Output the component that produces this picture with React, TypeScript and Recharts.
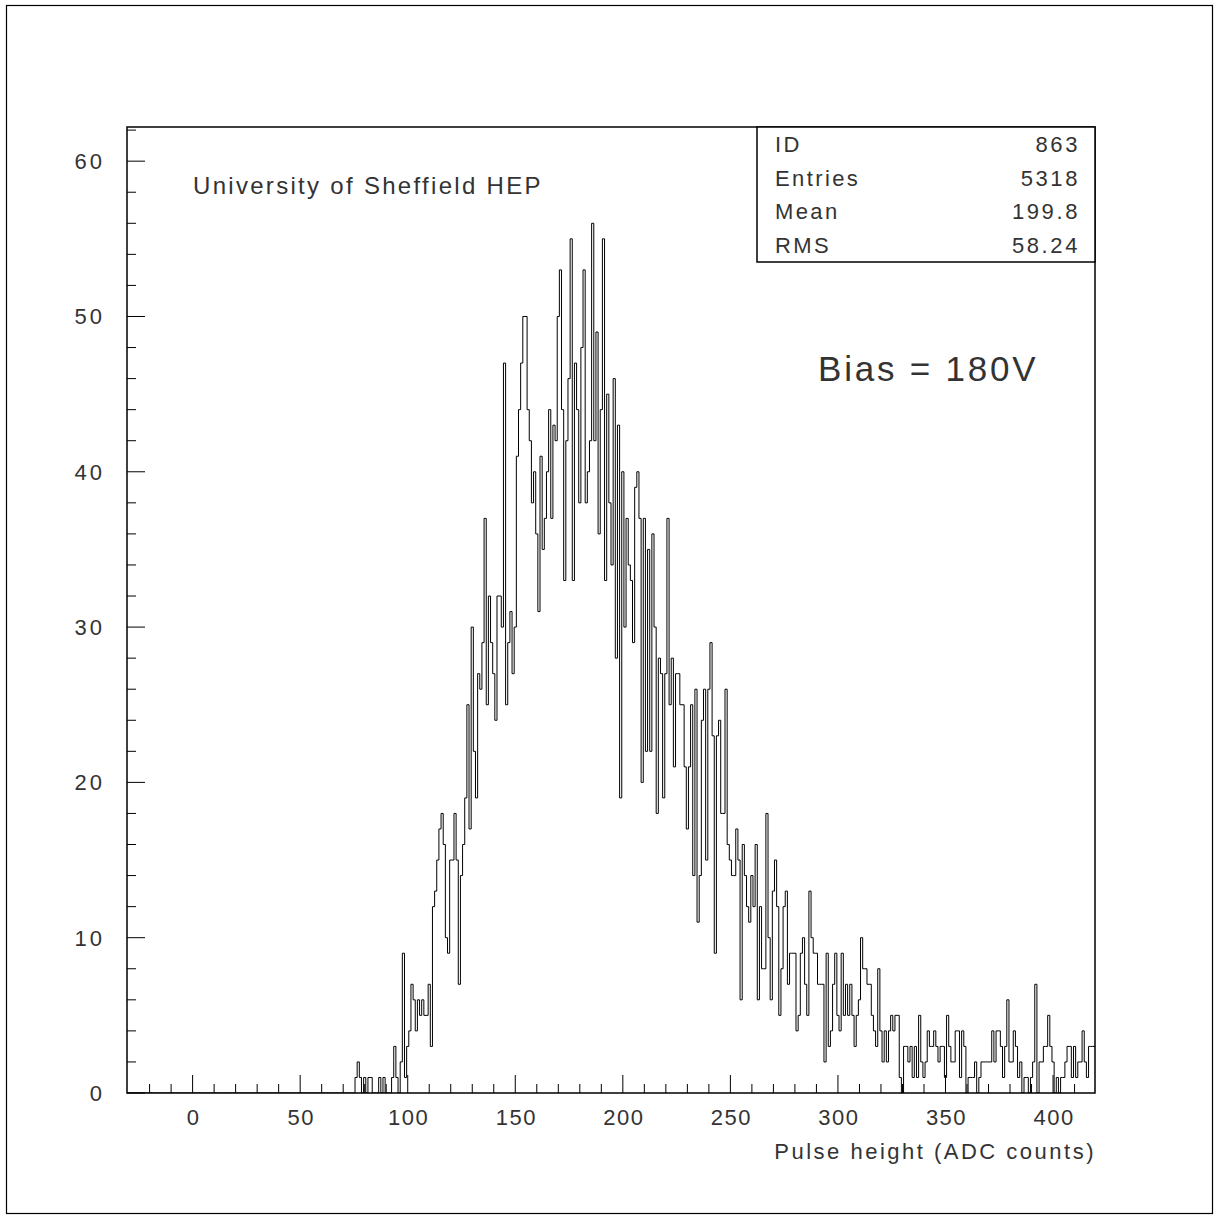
import React from 'react';
import { ComposedChart, Line, XAxis, YAxis, ReferenceArea } from 'recharts';

// Pulse-height spectrum, one ADC count per bin, bins centred on integer values.
// Everything below FIRST_BIN is empty.
const FIRST_BIN = 76;
const binCounts: number[] = [
  // 76 - 111
  1, 2, 1, 0, 1, 0, 1, 1, 0, 0, 0, 1, 0, 1, 0, 0, 0, 1, 3, 1, 0, 2, 9, 1, 3, 4, 7, 6, 4, 6, 5, 6, 5, 5, 7, 3,
  // 112 - 150
  12, 13, 15, 17, 18, 16, 10, 9, 15, 15, 18, 15, 7, 14, 16, 19, 25, 17, 30, 22, 19, 27, 26, 29, 37, 25, 32, 29,
  27, 24, 32, 32, 30, 47, 25, 29, 31, 27, 30,
  // 151 - 199
  41, 44, 47, 50, 50, 44, 42, 38, 40, 36, 31, 41, 35, 37, 40, 44, 37, 43, 42, 50, 53, 44, 33, 42, 46, 55, 33, 47,
  44, 38, 48, 53, 38, 40, 42, 56, 42, 49, 36, 44, 55, 33, 45, 38, 34, 46, 28, 43, 19,
  // 200 - 250
  40, 30, 37, 34, 33, 29, 39, 40, 37, 20, 37, 22, 35, 22, 36, 30, 18, 28, 27, 19, 27, 37, 25, 28, 21, 27, 27, 25,
  25, 21, 17, 21, 25, 14, 26, 11, 14, 24, 26, 15, 26, 29, 23, 9, 23, 24, 18, 18, 26, 16, 15,
  // 251 - 300
  14, 14, 17, 15, 6, 16, 14, 12, 11, 14, 12, 16, 6, 12, 8, 8, 18, 10, 6, 13, 15, 12, 5, 8, 12, 13, 7, 9, 9, 9, 4,
  5, 9, 10, 7, 5, 13, 10, 9, 9, 7, 7, 7, 2, 9, 3, 4, 7, 9, 5,
  // 301 - 350
  4, 9, 5, 7, 5, 7, 5, 3, 5, 6, 10, 8, 8, 7, 7, 5, 4, 3, 8, 4, 2, 4, 2, 4, 5, 4, 5, 5, 1, 0, 3, 3, 2, 3, 1, 3, 1,
  5, 2, 1, 2, 4, 3, 3, 4, 3, 2, 3, 3, 1,
  // 351 - 419
  5, 3, 2, 2, 4, 4, 1, 4, 3, 0, 1, 1, 1, 2, 0, 1, 2, 2, 2, 2, 2, 4, 2, 4, 4, 3, 1, 3, 6, 2, 2, 4, 3, 1, 2, 0, 1,
  1, 0, 1, 2, 7, 0, 2, 2, 3, 3, 5, 3, 2, 0, 1, 0, 1, 1, 2, 3, 3, 1, 3, 1, 2, 2, 4, 2, 1, 3, 3, 3,
];

const X_MIN = -30.5;
const X_MAX = 419.5;
const Y_MAX = 62.2;

const xMajorTicks = [0, 50, 100, 150, 200, 250, 300, 350, 400];
const yMajorTicks = [0, 10, 20, 30, 40, 50, 60];

const statsRows = [
  { label: 'ID', value: '863' },
  { label: 'Entries', value: '5318' },
  { label: 'Mean', value: '199.8' },
  { label: 'RMS', value: '58.24' },
];

// minor ticks every 10 counts on x, every 2 entries on y
const xTicks: number[] = [];
for (let t = -20; t <= 410; t += 10) xTicks.push(t);
const yTicks: number[] = [];
for (let t = 0; t <= 62; t += 2) yTicks.push(t);

// step outline: one point at the low edge of each bin, plus the closing edge
const histData: { x: number; count: number }[] = [];
for (let v = -30; v <= 419; v++) {
  const idx = v - FIRST_BIN;
  const count = idx >= 0 && idx < binCounts.length ? binCounts[idx] : 0;
  histData.push({ x: v - 0.5, count });
}
histData.push({ x: X_MAX, count: histData[histData.length - 1].count });

const W = 1215;
const H = 1215;
const PLOT_LEFT = 127;
const PLOT_TOP = 127;
const PLOT_RIGHT = 1095;
const PLOT_BOTTOM = 1093;
const STATS_LEFT = 757;
const STATS_BOTTOM = 262;

const FONT = '"Liberation Sans", Arial, sans-serif';
const INK = '#333';

const XTick = (props: any) => {
  const { x, payload } = props;
  const v = payload.value as number;
  const major = xMajorTicks.includes(v);
  return (
    <g>
      <line x1={x} x2={x} y1={PLOT_BOTTOM} y2={PLOT_BOTTOM - (major ? 18 : 9)} stroke="#000" strokeWidth={1} />
      {major && (
        <text x={x + 1} y={PLOT_BOTTOM + 32} textAnchor="middle" fontFamily={FONT} fontSize={22} fill={INK} letterSpacing={1.5}>
          {v}
        </text>
      )}
    </g>
  );
};

const YTick = (props: any) => {
  const { y, payload } = props;
  const v = payload.value as number;
  const major = yMajorTicks.includes(v);
  return (
    <g>
      <line x1={PLOT_LEFT} x2={PLOT_LEFT + (major ? 18 : 9)} y1={y} y2={y} stroke="#000" strokeWidth={1} />
      {major && (
        <text x={105} y={y + 8} textAnchor="end" fontFamily={FONT} fontSize={22} fill={INK} letterSpacing={3}>
          {v}
        </text>
      )}
    </g>
  );
};

export default function App() {
  const rowH = (STATS_BOTTOM - PLOT_TOP) / statsRows.length;
  return (
    <div style={{ position: 'absolute', left: 0, top: 0, width: W, height: H, background: '#fff' }}>
      <ComposedChart
        width={W}
        height={H}
        data={histData}
        margin={{ top: PLOT_TOP, right: W - PLOT_RIGHT, bottom: 62, left: 67 }}
      >
        <XAxis
          dataKey="x"
          type="number"
          domain={[X_MIN, X_MAX]}
          ticks={xTicks}
          interval={0}
          height={60}
          axisLine={false}
          tickLine={false}
          tick={<XTick />}
          allowDataOverflow
        />
        <YAxis
          type="number"
          domain={[0, Y_MAX]}
          ticks={yTicks}
          interval={0}
          width={60}
          axisLine={false}
          tickLine={false}
          tick={<YTick />}
          allowDataOverflow
        />
        <Line
          type="stepAfter"
          dataKey="count"
          stroke="#000"
          strokeWidth={1}
          dot={false}
          activeDot={false}
          isAnimationActive={false}
        />
        <ReferenceArea
          x1={X_MIN}
          x2={X_MAX}
          y1={0}
          y2={Y_MAX}
          fill="none"
          fillOpacity={0}
          stroke="#000"
          strokeWidth={1.5}
          ifOverflow="visible"
        />
      </ComposedChart>

      <svg width={W} height={H} style={{ position: 'absolute', left: 0, top: 0, pointerEvents: 'none' }}>
        {/* page frame */}
        <rect x={6.5} y={5.5} width={1206} height={1208} fill="none" stroke="#000" strokeWidth={1.2} />

        {/* statistics box */}
        <rect
          x={STATS_LEFT}
          y={PLOT_TOP}
          width={PLOT_RIGHT - STATS_LEFT}
          height={STATS_BOTTOM - PLOT_TOP}
          fill="#fff"
          stroke="#000"
          strokeWidth={1.5}
        />
        {statsRows.map((r, i) => {
          const base = PLOT_TOP + rowH * (i + 0.5) + 8;
          return (
            <g key={r.label}>
              <text x={775} y={base} fontFamily={FONT} fontSize={22} fill={INK} letterSpacing={2.4}>
                {r.label}
              </text>
              <text x={1080} y={base} textAnchor="end" fontFamily={FONT} fontSize={22} fill={INK} letterSpacing={2.6}>
                {r.value}
              </text>
            </g>
          );
        })}

        <text x={193} y={194} fontFamily={FONT} fontSize={24} fill={INK} letterSpacing={2.3}>
          University of Sheffield HEP
        </text>
        <text x={818} y={381} fontFamily={FONT} fontSize={35} fill={INK} letterSpacing={2.8}>
          Bias = 180V
        </text>
        <text x={1096} y={1159} textAnchor="end" fontFamily={FONT} fontSize={22} fill={INK} letterSpacing={2.5}>
          Pulse height (ADC counts)
        </text>
      </svg>
    </div>
  );
}
